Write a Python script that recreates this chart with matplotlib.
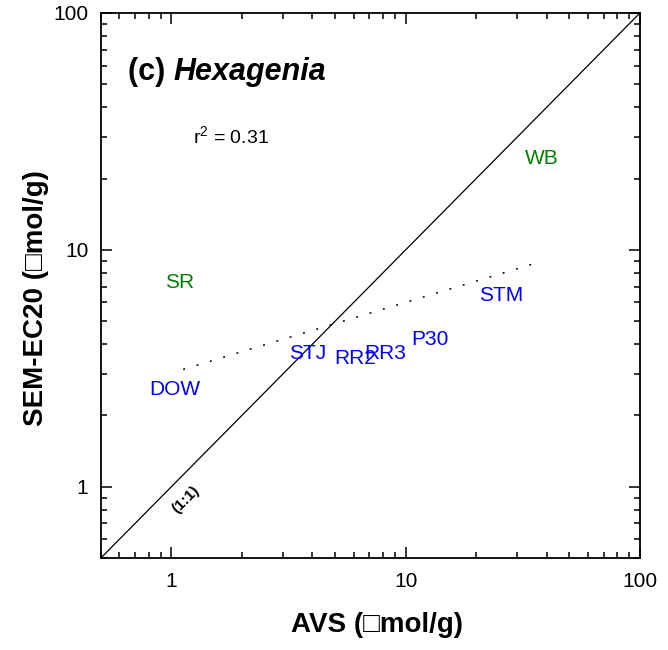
import numpy as np
import matplotlib
matplotlib.use("Agg")
import matplotlib.pyplot as plt
from matplotlib.ticker import LogLocator, NullFormatter, FixedLocator, FixedFormatter

plt.rcParams['font.family'] = ['Liberation Sans', 'DejaVu Sans']
plt.rcParams['mathtext.fontset'] = 'custom'
plt.rcParams['mathtext.rm'] = 'Liberation Sans'
plt.rcParams['mathtext.it'] = 'Liberation Sans:italic'

# sites, AVS and SEM-EC20 (umol/g)
sites = ['WB', 'SR', 'STM', 'P30', 'RR3', 'RR2', 'STJ', 'DOW']
avs = [38.0, 1.08, 25.6, 12.7, 8.2, 6.1, 3.8, 1.03]
sem = [24.4, 7.3, 6.4, 4.2, 3.65, 3.47, 3.65, 2.57]
site_colors = ['green', 'green', 'blue', 'blue', 'blue', 'blue', 'blue', 'blue']

one_to_one = [0.5, 100]
tick_vals = [1, 10, 100]
tick_labels = ['1', '10', '100']

fig = plt.figure(figsize=(6.68, 6.5), dpi=100)
ax = fig.add_axes([0.151, 0.1415, 0.807, 0.8385])
ax.set_xscale('log')
ax.set_yscale('log')
ax.set_xlim(0.5, 100)
ax.set_ylim(0.5, 100)

# 1:1 reference line
ax.plot(one_to_one, one_to_one, color='black', lw=0.9)
ax.text(1.15, 0.88, '(1:1)', rotation=45, ha='center', va='center',
        fontsize=11, fontweight='bold')

# log-log regression of SEM on AVS
lx = np.log10(avs)
ly = np.log10(sem)
slope, icpt = np.polyfit(lx, ly, 1)
r2 = np.corrcoef(lx, ly)[0, 1] ** 2
fx = np.array([min(avs) * 1.09, max(avs)])
ax.plot(fx, 10 ** (icpt + slope * np.log10(fx)), color='black', lw=1.1,
        linestyle=(0, (1.3, 7.8)))

for name, x, y, c in zip(sites, avs, sem, site_colors):
    ax.text(x, y, name, color=c, fontsize=15, ha='center', va='center')

ax.text(1.79, 30.3, 'r$^2$ = %.2f' % r2, fontsize=14, ha='center', va='center')

t1 = ax.text(0.05, 0.877, '(c) ', transform=ax.transAxes, fontsize=22,
             fontweight='bold', ha='left', va='baseline')
ax.annotate('Hexagenia', xy=(1, 0), xycoords=t1, fontsize=22,
            fontweight='bold', style='italic', ha='left', va='bottom')

for axis in (ax.xaxis, ax.yaxis):
    axis.set_major_locator(FixedLocator(tick_vals))
    axis.set_major_formatter(FixedFormatter(tick_labels))
    axis.set_minor_locator(LogLocator(base=10, subs=np.arange(2, 10)))
    axis.set_minor_formatter(NullFormatter())

ax.tick_params(which='both', direction='in', top=True, right=True, width=1.1)
ax.tick_params(which='major', length=8, labelsize=15)
ax.tick_params(axis='x', which='major', pad=10)
ax.tick_params(axis='y', which='major', pad=9)
ax.tick_params(which='minor', length=4)
for s in ax.spines.values():
    s.set_linewidth(1.3)

ax.set_xlabel('AVS (\u25a1mol/g)', fontsize=20, fontweight='bold')
ax.set_ylabel('SEM-EC20 (\u25a1mol/g)', fontsize=20, fontweight='bold')
ax.xaxis.set_label_coords(0.513, -0.099)
ax.yaxis.set_label_coords(-0.097, 0.477)

fig.savefig('out.png', dpi=100)
